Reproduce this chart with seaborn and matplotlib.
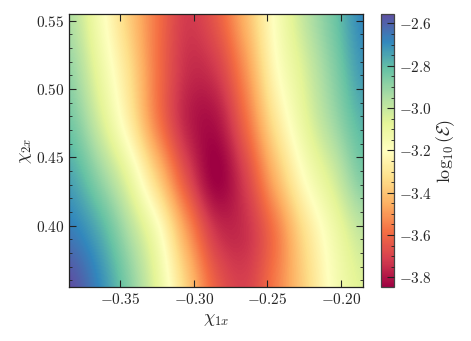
import numpy as np
import matplotlib
matplotlib.use("Agg")
import matplotlib.pyplot as plt
from matplotlib.ticker import MultipleLocator, FuncFormatter
import seaborn as sns

# grid coordinates
chi1x = [-0.385, -0.365, -0.345, -0.325, -0.305, -0.285, -0.265, -0.245, -0.225, -0.205, -0.185]
chi2x = [0.355, 0.395, 0.435, 0.475, 0.515, 0.555]

# log10(E) values, one list per chi2x row (bottom to top)
row_0355 = [-2.555, -2.682, -2.863, -3.083, -3.368, -3.626, -3.704, -3.561, -3.368, -3.174, -3.057]
row_0395 = [-2.656, -2.760, -2.941, -3.161, -3.484, -3.730, -3.743, -3.574, -3.329, -3.135, -2.993]
row_0435 = [-2.747, -2.889, -3.083, -3.368, -3.665, -3.846, -3.704, -3.445, -3.200, -3.031, -2.863]
row_0475 = [-2.837, -3.018, -3.251, -3.549, -3.768, -3.807, -3.600, -3.316, -3.096, -2.928, -2.786]
row_0515 = [-2.902, -3.096, -3.316, -3.574, -3.743, -3.717, -3.510, -3.225, -3.044, -2.876, -2.721]
row_0555 = [-2.954, -3.148, -3.368, -3.574, -3.717, -3.639, -3.432, -3.187, -2.993, -2.837, -2.682]

Z = np.array([row_0355, row_0395, row_0435, row_0475, row_0515, row_0555])

sns.set_style("ticks")
plt.rcParams.update({
    "font.family": "serif",
    "font.serif": ["cmr10", "DejaVu Serif"],
    "mathtext.fontset": "cm",
    "axes.formatter.use_mathtext": True,
    "axes.unicode_minus": True,
    "axes.axisbelow": False,
    "font.size": 11,
})

fig = plt.figure(figsize=(4.71, 3.41), dpi=100)
ax = fig.add_axes([0.1465, 0.1584, 0.6242, 0.8006])
cax = fig.add_axes([0.8089, 0.1584, 0.0276, 0.8006])

dx = chi1x[1] - chi1x[0]
dy = chi2x[1] - chi2x[0]
img = ax.imshow(Z, origin="lower", cmap="Spectral", vmin=Z.min(), vmax=Z.max(),
                interpolation="catrom", interpolation_stage="data", aspect="auto",
                extent=[chi1x[0] - dx / 2, chi1x[-1] + dx / 2,
                        chi2x[0] - dy / 2, chi2x[-1] + dy / 2])
ax.set_xlim(chi1x[0], chi1x[-1])
ax.set_ylim(chi2x[0], chi2x[-1])

fmt2 = FuncFormatter(lambda v, p: r"$%.2f$" % v)
ax.xaxis.set_major_locator(MultipleLocator(0.05))
ax.yaxis.set_major_locator(MultipleLocator(0.05))
ax.yaxis.set_minor_locator(MultipleLocator(0.01))
ax.xaxis.set_major_formatter(fmt2)
ax.yaxis.set_major_formatter(fmt2)
ax.tick_params(axis="both", which="both", direction="in", top=True, right=True,
               labelsize=11, color="#222222")
ax.tick_params(which="major", length=5, width=0.8)
ax.tick_params(which="minor", length=2.5, width=0.6)
for s in ax.spines.values():
    s.set_linewidth(0.9)
    s.set_color("#222222")

ax.set_xlabel(r"$\chi_{1x}$", fontsize=13, labelpad=4)
ax.set_ylabel(r"$\chi_{2x}$", fontsize=13, labelpad=1)

cb = fig.colorbar(img, cax=cax)
cb.locator = MultipleLocator(0.2)
cb.update_ticks()
cax.yaxis.set_minor_locator(MultipleLocator(0.05))
cax.yaxis.set_major_formatter(FuncFormatter(lambda v, p: r"$%.1f$" % v))
cax.tick_params(which="both", direction="in", labelsize=11, color="#222222")
cax.tick_params(which="major", length=5, width=0.8)
cax.tick_params(which="minor", length=2.5, width=0.6)
cb.outline.set_linewidth(0.9)
cb.outline.set_edgecolor("#444444")
cb.set_label(r"$\log_{10}(\mathcal{E})$", fontsize=13, labelpad=2)

fig.savefig("out.png", dpi=100)
